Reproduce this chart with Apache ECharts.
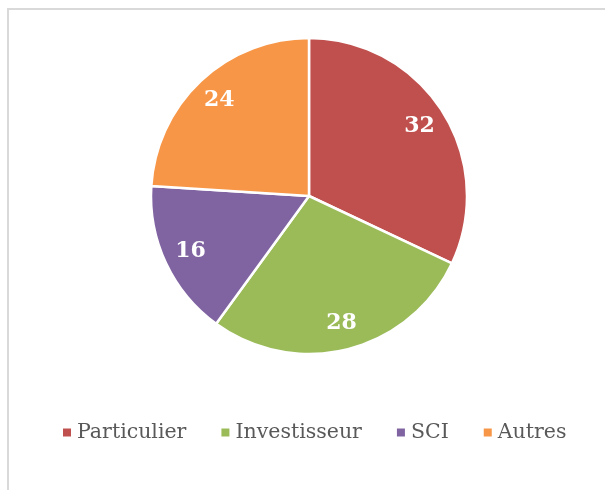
<!DOCTYPE html>
<html>
<head>
    <meta charset="utf-8" />
    <title>Pie</title>
    <script src="https://cdn.jsdelivr.net/npm/echarts@6/dist/echarts.min.js"></script>
    <style>
        body { margin: 0; background: #fff; }
        #frame { position: absolute; left: 7px; top: 8px; width: 620px; height: 500px; border: 2px solid #d9d9d9; }
        #main { position: absolute; left: 0; top: 0; width: 605px; height: 490px; }
    </style>
</head>
<body>
<div id="frame"></div>
<div id="main"></div>
<script type="text/javascript">
    // données
    var categories = ['Particulier', 'Investisseur', 'SCI', 'Autres'];
    var values = [32, 28, 16, 24];
    var colors = ['#C0504D', '#9BBB59', '#8064A2', '#F79646'];

    var pieData = [];
    for (var i = 0; i < categories.length; i++) {
        pieData.push({ name: categories[i], value: values[i], itemStyle: { color: colors[i] } });
    }

    var myChart = echarts.init(document.getElementById('main'));
    var option = {
        animation: false,
        legend: {
            bottom: 42,
            left: 56,
            icon: 'rect',
            itemWidth: 10,
            itemHeight: 10,
            itemGap: 33,
            textStyle: { fontFamily: 'DejaVu Serif', fontSize: 20.5, color: '#595959' },
            data: categories
        },
        series: [
            {
                type: 'pie',
                center: [309, 196],
                radius: [0, 158],
                startAngle: 90,
                clockwise: true,
                silent: true,
                itemStyle: { borderColor: '#fff', borderWidth: 2.5 },
                label: { show: false },
                labelLine: { show: false },
                data: pieData
            },
            {
                // série invisible pour placer les étiquettes
                type: 'pie',
                center: [309, 196],
                radius: [98, 158],
                startAngle: 90,
                clockwise: true,
                silent: true,
                itemStyle: { color: 'transparent', borderWidth: 0 },
                label: {
                    show: true,
                    position: 'inside',
                    formatter: '{c}',
                    color: '#fff',
                    fontFamily: 'DejaVu Serif',
                    fontWeight: 'bold',
                    fontSize: 22
                },
                labelLine: { show: false },
                data: values.map(function (v, i) { return { name: categories[i], value: v }; })
            }
        ]
    };
    myChart.setOption(option);
</script>
</body>
</html>
